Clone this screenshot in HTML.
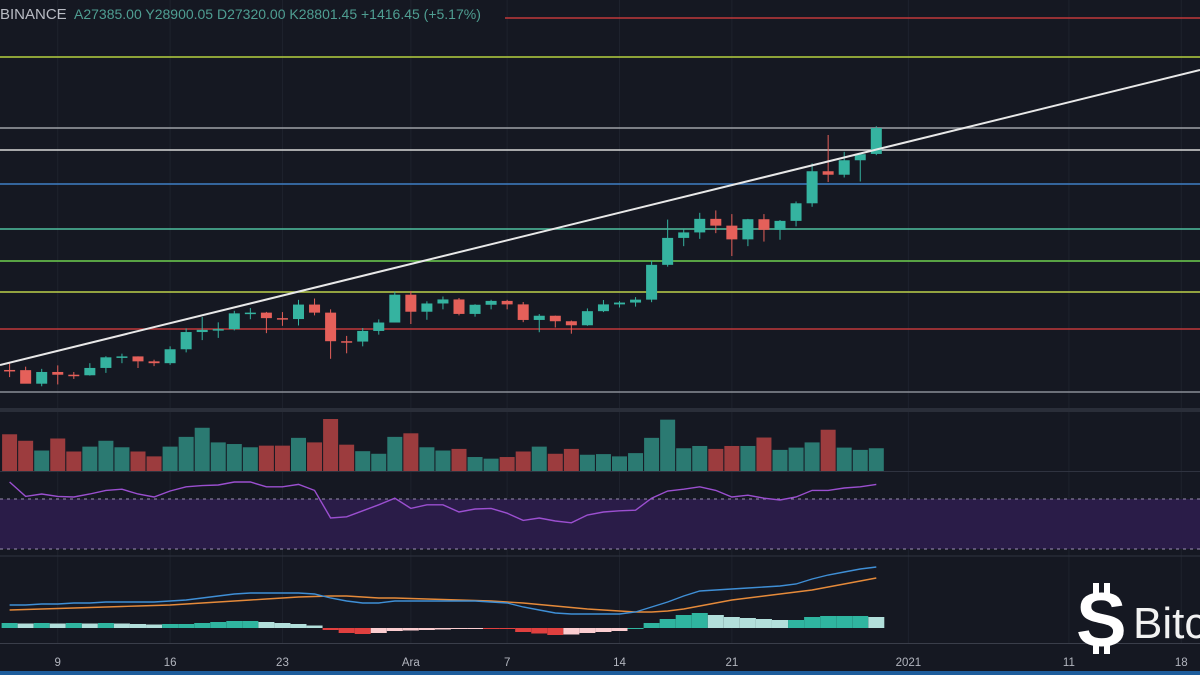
<!DOCTYPE html>
<html><head><meta charset="utf-8"><style>
html,body{margin:0;padding:0;background:#151822;}
svg{display:block;font-family:"Liberation Sans",sans-serif;}
</style></head><body>
<svg id="c" width="1200" height="675" viewBox="0 0 1200 675">
<rect x="0" y="0" width="1200" height="675" fill="#151822"/>
<g id="grid"></g>
<g id="levels"></g>
<g id="candles"></g>
<line x1="0" y1="365" x2="1200" y2="70" stroke="#e8e8e8" stroke-width="2"/>
<rect x="0" y="408" width="1200" height="4" fill="#2a2e39"/>
<g id="volume"></g>
<line x1="0" y1="471.5" x2="1200" y2="471.5" stroke="#2f3340"/>
<rect x="0" y="499" width="1200" height="50" fill="#2a1c48"/>
<line x1="0" y1="499" x2="1200" y2="499" stroke="#9a8fb0" stroke-dasharray="3,4"/>
<line x1="0" y1="549" x2="1200" y2="549" stroke="#9a8fb0" stroke-dasharray="3,4"/>
<g id="rsi"></g>
<line x1="0" y1="556" x2="1200" y2="556" stroke="#2f3340"/>
<g id="macd"></g>
<line x1="0" y1="643.5" x2="1200" y2="643.5" stroke="#3a3e4a"/>
<g id="xaxis"></g>
<rect x="0" y="671" width="1200" height="4" fill="#1d5d9c"/>
<text x="0" y="19" fill="#b9bcc4" font-size="15">BINANCE</text>
<text x="74" y="19" fill="#4f9e92" font-size="14">A27385.00 Y28900.05 D27320.00 K28801.45 +1416.45 (+5.17%)</text>
<g>
<rect x="1093" y="583" width="6" height="14" fill="#fff"/><rect x="1104" y="583" width="6" height="14" fill="#fff"/>
<rect x="1093" y="640" width="6" height="14" fill="#fff"/><rect x="1104" y="640" width="6" height="14" fill="#fff"/>
<text x="1076" y="646" fill="#fff" font-size="76" font-weight="bold">S</text>
<text x="1133" y="638" fill="#f2f2f2" font-size="44">Bitc</text>
</g>
</svg>
<script>
const dates=["6","7","8","9","10","11","12","13","14","15","16","17","18","19","20","21","22","23","24","25","26","27","28","29","30","1","2","3","4","5","6","7","8","9","10","11","12","13","14","15","16","17","18","19","20","21","22","23","24","25","26","27","28","29","30"];
const opens=[15590,15580,14840,15480,15330,15300,15700,16280,16330,16060,15960,16720,17660,17780,17820,18680,18720,18420,18370,19160,18720,17160,17140,17720,18180,19700,18770,19220,19440,18650,19150,19360,19170,18320,18550,18250,18030,18800,19170,19270,19430,21330,22800,23100,23840,23470,22720,23820,23240,23730,24690,26440,26250,27040,27385];
const highs=[15960,15770,15650,15840,15480,15960,16340,16480,16330,16150,16880,17860,18480,18190,18820,18970,18760,18750,19420,19490,18900,17450,17880,18350,19860,19900,19340,19600,19520,19180,19420,19420,19300,18640,18560,18290,18950,19410,19350,19570,21560,23800,23280,24170,24300,24100,23840,24100,23780,24790,26870,28420,27500,27390,28900];
const lows=[15200,14900,14700,14800,15100,15280,15430,15960,15700,15800,15870,16550,17220,17340,17750,18360,17600,18000,18020,18570,16200,16500,16880,17520,18180,18100,18330,18900,18570,18500,18900,18900,18200,17650,17910,17570,18000,18750,19000,19050,19290,21230,22350,22750,23060,21810,22350,22600,22700,23430,24500,25850,26100,25880,27320];
const closes=[15580,14840,15480,15330,15300,15700,16280,16330,16060,15960,16720,17660,17780,17820,18680,18720,18420,18370,19160,18720,17160,17140,17720,18180,19700,18770,19220,19440,18650,19150,19360,19170,18320,18550,18250,18030,18800,19170,19270,19430,21330,22800,23100,23840,23470,22720,23820,23240,23730,24690,26440,26250,27040,27370,28800];
const volumes=[113,93,63,100,60,75,93,73,60,45,75,105,133,88,83,73,78,78,102,88,160,81,61,53,105,116,73,63,68,43,38,43,60,75,53,68,50,52,45,55,102,158,70,77,68,77,77,103,65,72,88,127,72,65,70];
const rsiValues=[85,73,75,73,72.5,75,78,79,75,72.5,77.5,81,82,82.5,85,85,81,81,83,78,55,56,61,66,71.5,63,66,66,60,62.5,63,59,53,55,52.5,51,57.5,60,61,61.5,71.5,77.5,79,81,78,72.5,74,71.5,70,72.5,78,78,80,81,83];
const macdValues=[460,460,480,480,500,500,520,520,520,520,540,560,600,640,680,700,700,700,700,680,600,540,500,500,540,540,540,540,540,540,520,500,420,360,300,280,280,280,280,320,420,520,640,740,760,780,800,820,840,880,980,1060,1120,1180,1220];
const signalValues=[360,370,380,390,400,410,420,430,440,450,460,480,500,520,540,560,580,600,620,630,640,640,620,600,600,590,580,570,560,550,540,520,500,470,440,410,380,360,340,320,320,340,380,440,500,560,600,640,680,720,760,820,880,940,1000];
const histValues=[100,90,100,90,100,90,100,90,80,70,80,80,100,120,140,140,120,100,80,50,-40,-100,-120,-100,-60,-50,-40,-30,-20,-10,-20,-20,-80,-110,-140,-130,-100,-80,-60,0,100,180,260,300,260,220,200,180,160,160,220,240,240,240,220];
const levelPrices=[34807,32678,28801,27600,25743,23286,21539,19847,17826,14387];
const levelColors=["#c0393b","#b5cf3f","#9ea1a8","#d8d8d8","#3f7fc4","#4fc0a0","#6fcf4f","#bcd04a","#c0393b","#8a8d96"];
const tickLabels=["9","16","23","Ara","7","14","21","2021","11","18"];
const tickIndex=[3,10,17,25,31,38,45,56,66,73];

const NS="http://www.w3.org/2000/svg";
function xAt(i){return 9.6+16.05*i;}
function yPrice(p){return 128+(28801-p)/54.6;}
const vMax=Math.max(...volumes);
function yVol(v){return 471-v/vMax*52;}
function yRsi(v){return 500+(70-v)*1.2;}
function yMacd(v){return 628-v/20;}
function mk(tag,attrs,parent){const e=document.createElementNS(NS,tag);for(const k in attrs)e.setAttribute(k,attrs[k]);parent.appendChild(e);return e;}

const grid=document.getElementById('grid');
tickIndex.forEach((ti,k)=>{
  const g=mk('line',{x1:xAt(ti),x2:xAt(ti),y1:0,y2:643,stroke:'#1e222d','stroke-width':1},grid);
  
  
});
const lv=document.getElementById('levels');
levelPrices.forEach((p,k)=>{
  const y=yPrice(p);
  const l=mk('line',{x1:k===0?505:0,x2:1200,y1:y,y2:y,stroke:levelColors[k],'stroke-width':1.6},lv);
  
  
});
const cg=document.getElementById('candles');
const vg=document.getElementById('volume');
closes.forEach((c,i)=>{
  const up=c>=opens[i];
  const col=up?'#35b3a0':'#e5605a';
  const x=xAt(i);
  const w=mk('line',{x1:x,x2:x,y1:yPrice(highs[i]),y2:yPrice(lows[i]),stroke:col,'stroke-width':1},cg);
  
  
  const yt=yPrice(Math.max(c,opens[i])),yb=yPrice(Math.min(c,opens[i]));
  const b=mk('rect',{x:x-5.5,y:yt,width:11,height:Math.max(1.5,yb-yt),fill:col},cg);
  
  
  const vy=yVol(volumes[i]);
  const vb=mk('rect',{x:x-7.5,y:vy,width:15,height:471-vy,fill:up?'#2b7a72':'#9c3c3e'},vg);
  
  
});
function poly(vals,fy,col,g,name){
  const p=mk('polyline',{points:vals.map((v,i)=>xAt(i)+','+fy(v)).join(' '),fill:'none',stroke:col,'stroke-width':1.4},g);
  
  
}
poly(rsiValues,yRsi,'#9b4fd0',document.getElementById('rsi'),'rsi-line');
const mg=document.getElementById('macd');
histValues.forEach((h,i)=>{
  const prev=i>0?histValues[i-1]:h;
  const col=h>=0?(h>=prev?'#2fb5a0':'#b2dfdb'):(h<=prev?'#e0403f':'#fbcdd0');
  const y0=yMacd(0),y1=yMacd(h);
  const r=mk('rect',{x:xAt(i)-8,y:Math.min(y0,y1),width:16,height:Math.max(1,Math.abs(y1-y0)),fill:col},mg);
  
  
});
poly(signalValues,yMacd,'#e58a3a',mg,'signal-line');
poly(macdValues,yMacd,'#3f8fd6',mg,'macd-line');
const xa=document.getElementById('xaxis');
tickLabels.forEach((t,k)=>{
  const tx=mk('text',{x:xAt(tickIndex[k]),y:666,fill:'#b2b5be','font-size':11.5,'text-anchor':'middle'},xa);
  tx.textContent=t;
  
  
});
</script>
</body></html>
